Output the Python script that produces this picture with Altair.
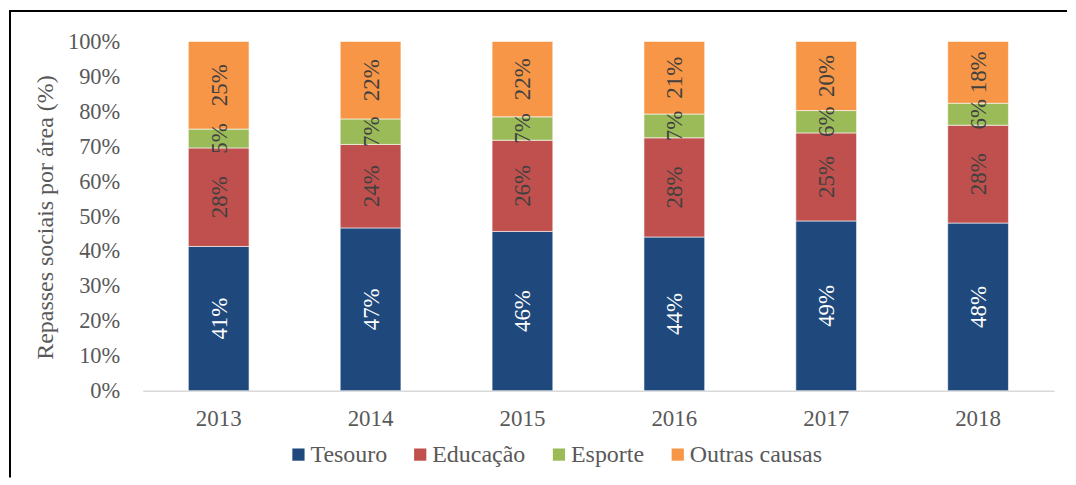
import altair as alt
import pandas as pd

years = ["2013", "2014", "2015", "2016", "2017", "2018"]
categories = ["Tesouro", "Educação", "Esporte", "Outras causas"]
colors = ["#1F497D", "#C0504D", "#9BBB59", "#F79646"]
tesouro = [41.3, 46.6, 45.6, 44.0, 48.6, 48.0]
educacao = [28.2, 23.9, 26.1, 28.4, 25.2, 28.0]
esporte = [5.4, 7.3, 6.7, 6.8, 6.4, 6.3]
outras = [25.1, 22.2, 21.6, 20.8, 19.8, 17.7]
y_ticks = [0, 0.1, 0.2, 0.3, 0.4, 0.5, 0.6, 0.7, 0.8, 0.9, 1.0]

series = [tesouro, educacao, esporte, outras]
rows = []
for i, yr in enumerate(years):
    for j, cat in enumerate(categories):
        rows.append({"ano": yr, "cat": cat, "ordem": j, "v": series[j][i] / 100})
df = pd.DataFrame(rows)

FONT = "Liberation Serif"
TXT = "#595959"
W, H = 913, 350

base = alt.Chart(df).transform_stack(
    stack="v", groupby=["ano"], as_=["v0", "v1"],
    sort=[alt.SortField("ordem", order="ascending")]
).transform_calculate(mid="(datum.v0 + datum.v1) / 2")

xscale = alt.Scale(paddingInner=0.6, paddingOuter=0.3)
yscale = alt.Scale(domain=[0, 1], nice=False)

xaxis = alt.Axis(labelAngle=0, ticks=False, domainColor="#d9d9d9", domainWidth=1.5,
                 labelFont=FONT, labelFontSize=23, labelColor=TXT, labelPadding=17, grid=False)
yaxis = alt.Axis(format=".0%", values=y_ticks, ticks=False, domain=False,
                 grid=False, labelOverlap=False, labelFlush=False,
                 labelFont=FONT, labelFontSize=22.5, labelColor=TXT, labelPadding=23,
                 title="Repasses sociais por área (%)", titleFont=FONT, titleFontSize=24,
                 titleFontWeight="normal", titleColor=TXT, titleX=-97, titleY=176,
                 titleAngle=270, titleAlign="center", titleBaseline="middle")

x = alt.X("ano:N", title=None, sort=years, scale=xscale, axis=xaxis)

bars = base.mark_bar(stroke="#ffffff", strokeWidth=0.6).encode(
    x=x,
    y=alt.Y("v0:Q", scale=yscale, axis=yaxis),
    y2="v1:Q",
    color=alt.Color("cat:N", scale=alt.Scale(domain=categories, range=colors),
                    legend=alt.Legend(title=None, orient="none", legendX=144, legendY=402,
                                      direction="horizontal", symbolType="square", symbolSize=150,
                                      symbolStrokeWidth=0, labelFont=FONT, labelFontSize=24,
                                      labelColor=TXT, labelOffset=0, columnPadding=21)),
)

y_mid = alt.Y("mid:Q", scale=yscale, axis=yaxis)

lab_t = base.transform_filter("datum.cat == 'Tesouro'").mark_text(
    angle=270, font=FONT, fontSize=23, color="#ffffff", baseline="middle", align="center", dy=1
).encode(x=x, y=y_mid, text=alt.Text("v:Q", format=".0%"))

lab_o = base.transform_filter("datum.cat != 'Tesouro'").mark_text(
    angle=270, font=FONT, fontSize=23, color="#404040", baseline="middle", align="center", dy=1
).encode(x=x, y=y_mid, text=alt.Text("v:Q", format=".0%"))

one = pd.DataFrame({"a": [0]})
top_line = alt.Chart(one).mark_rule(color="#000000", strokeWidth=2).encode(
    x=alt.value(-134), x2=alt.value(926), y=alt.value(-30.5))
left_line = alt.Chart(one).mark_rule(color="#000000", strokeWidth=2).encode(
    x=alt.value(-133), y=alt.value(-31.5), y2=alt.value(437))

chart = alt.layer(bars, lab_t, lab_o, top_line, left_line).properties(
    width=W, height=H, padding=0
).configure(font=FONT).configure_view(stroke=None).configure_legend(labelFont=FONT)

chart.save("out.html", embed_options={"renderer": "svg", "actions": False})
